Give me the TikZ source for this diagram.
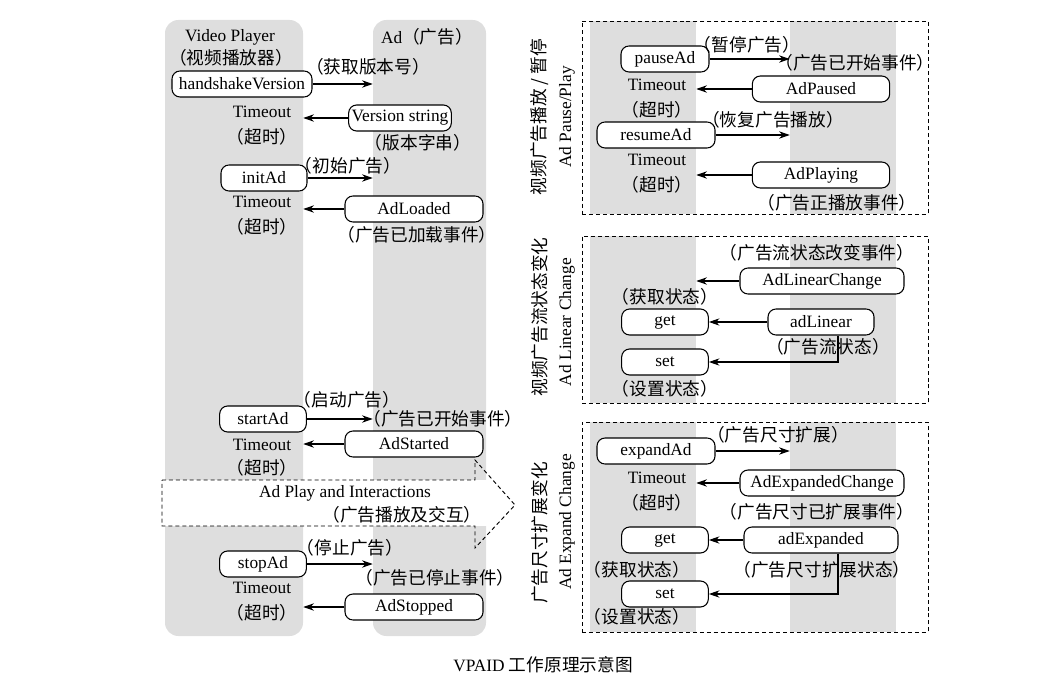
\documentclass[tikz,border=0pt]{standalone}
\usepackage{fontspec}
\setmainfont{Liberation Serif}
\newfontfamily\cjk{Noto Sans CJK SC}[Scale=1.02]
\newcommand{\zh}[1]{{\cjk #1}}
\usetikzlibrary{arrows.meta,calc}
\tikzset{
  lane/.style={fill=black!13, draw=none, rounded corners=10pt, inner sep=0pt},
  stripe/.style={fill=black!13, draw=none, inner sep=0pt},
  bx/.style={draw, fill=white, rounded corners=6pt, line width=0.8pt,
             minimum height=19.5pt, minimum width=#1, inner sep=1pt},
  lbl/.style={inner sep=1pt},
  sig/.style={-{Stealth[length=8pt,width=5.5pt]}, line width=0.8pt},
  grp/.style={draw, dash pattern=on 3pt off 2.2pt, line width=0.7pt, inner sep=0pt},
}

\begin{document}
\begin{tikzpicture}[x=0.75pt, y=-0.75pt, font=\fontsize{13}{15}\selectfont]
  \useasboundingbox (0,0) rectangle (1062,691);

  % lanes of the main sequence
  \node[lane, minimum width=103.5pt, minimum height=462pt] (vp) at (234,328) {};
  \node[lane, minimum width=84.75pt, minimum height=462pt] (ad) at (429.5,328) {};
  \node[lbl] (vpt) at (230,37) {Video Player};
  \node[lbl] (vpz) at (231,58) {\zh{（视频播放器）}};
  \node[lbl] (adt) at (427,37) {Ad\zh{（广告）}};

  % handshake
  \node[bx=105pt] (hv) at (242,84) {handshakeVersion};
  \draw[sig] (hv) -- (hv -| ad.west);
  \node[lbl] (hvz) at (368,67) {\zh{（获取版本号）}};
  \node[lbl] (to1) at (262,112) {Timeout};
  \node[lbl] (to1z) at (262,137) {\zh{（超时）}};
  \node[bx=77pt] (vs) at (400,118) {Version string};
  \draw[sig] (vs) -- (vs -| vp.east);
  \node[lbl] (vsz) at (418,143) {\zh{（版本字串）}};

  % init
  \node[bx=64.5pt] (ia) at (264,178) {initAd};
  \draw[sig] (ia) -- (ia -| ad.west);
  \node[lbl] (iaz) at (348,166) {\zh{（初始广告）}};
  \node[lbl] (to2) at (262,202) {Timeout};
  \node[lbl] (to2z) at (262,227) {\zh{（超时）}};
  \node[bx=103.5pt] (ald) at (414,209) {AdLoaded};
  \draw[sig] (ald) -- (ald -| vp.east);
  \node[lbl] (aldz) at (417,235) {\zh{（广告已加载事件）}};

  % start
  \node[lbl] (saz) at (347,400) {\zh{（启动广告）}};
  \node[bx=65pt] (sa) at (263,419) {startAd};
  \draw[sig] (sa) -- (sa -| ad.west);
  \node[lbl] (sae) at (443,419) {\zh{（广告已开始事件）}};
  \node[lbl] (to3) at (262,445) {Timeout};
  \node[lbl] (to3z) at (262,468) {\zh{（超时）}};
  \node[bx=103.5pt] (ast) at (414,444) {AdStarted};
  \draw[sig] (ast) -- (ast -| vp.east);

  % play and interactions
  \fill[white] (162,480) rectangle (488,526);
  \draw[grp] (162,480) -- (475,480) -- (475,460) -- (515,505) -- (475,548)
    -- (475,526) -- (162,526) -- cycle;
  \node[lbl] (pit) at (345,493) {Ad Play and Interactions};
  \node[lbl] (piz) at (402,515) {\zh{（广告播放及交互）}};

  % stop
  \node[lbl] (soz) at (350,548) {\zh{（停止广告）}};
  \node[bx=65pt] (so) at (263,564) {stopAd};
  \draw[sig] (so) -- (so -| ad.west);
  \node[lbl] (soe) at (435,578) {\zh{（广告已停止事件）}};
  \node[lbl] (to4) at (262,588) {Timeout};
  \node[lbl] (to4z) at (262,613) {\zh{（超时）}};
  \node[bx=103.5pt] (aso) at (414,607) {AdStopped};
  \draw[sig] (aso) -- (aso -| vp.east);

  % pause / play panel
  \node[stripe, minimum width=79.5pt, minimum height=144.75pt] (s1l) at (643,117.5) {};
  \node[stripe, minimum width=79.5pt, minimum height=144.75pt] (s1r) at (843,117.5) {};
  \node[grp, minimum width=259.5pt, minimum height=144.75pt] (p1) at (755,117.5) {};
  \node[lbl, rotate=90] (p1z) at (540,117) {\zh{视频广告播放 / 暂停}};
  \node[lbl, rotate=90] (p1e) at (567,117) {Ad Pause/Play};
  \node[bx=66pt] (pa) at (665,59) {pauseAd};
  \draw[sig] (pa) -- (pa -| s1r.west);
  \node[lbl] (paz) at (747,45) {\zh{（暂停广告）}};
  \node[lbl] (pae) at (855,63) {\zh{（广告已开始事件）}};
  \node[lbl] (to5) at (657,85) {Timeout};
  \node[lbl] (to5z) at (657,110) {\zh{（超时）}};
  \node[bx=103pt] (apd) at (821,89) {AdPaused};
  \draw[sig] (apd) -- (apd -| s1l.east);
  \node[lbl] (raz) at (773,120) {\zh{（恢复广告播放）}};
  \node[bx=88.5pt] (ra) at (656,135) {resumeAd};
  \draw[sig] (ra) -- (ra -| s1r.west);
  \node[lbl] (to6) at (657,160) {Timeout};
  \node[lbl] (to6z) at (657,185) {\zh{（超时）}};
  \node[bx=103pt] (apl) at (821,175) {AdPlaying};
  \draw[sig] (apl) -- (apl -| s1l.east);
  \node[lbl] (aplz) at (837,203) {\zh{（广告正播放事件）}};

  % linear change panel
  \node[stripe, minimum width=79.5pt, minimum height=125.25pt] (s2l) at (643,319.5) {};
  \node[stripe, minimum width=79.5pt, minimum height=125.25pt] (s2r) at (843,319.5) {};
  \node[grp, minimum width=259.5pt, minimum height=125.25pt] (p2) at (755,319.5) {};
  \node[lbl, rotate=90] (p2z) at (540,317) {\zh{视频广告流状态变化}};
  \node[lbl, rotate=90] (p2e) at (567,322) {Ad Linear Change};
  \node[lbl] (alcz) at (817,253) {\zh{（广告流状态改变事件）}};
  \node[bx=123pt] (alc) at (822,281) {AdLinearChange};
  \draw[sig] (alc) -- (alc -| s2l.east);
  \node[lbl] (g1z) at (665,297) {\zh{（获取状态）}};
  \node[bx=65pt] (g1) at (665,322) {get};
  \node[bx=79.5pt] (al) at (821,322) {adLinear};
  \draw[sig] (al) -- (g1);
  \node[lbl] (alz) at (828,347) {\zh{（广告流状态）}};
  \node[bx=65pt] (st1) at (665,362) {set};
  \draw[sig] ($(al.south)+(17,0)$) |- (st1);
  \node[lbl] (st1z) at (665,389) {\zh{（设置状态）}};

  % expand change panel
  \node[stripe, minimum width=79.5pt, minimum height=157.5pt] (s3l) at (643,527) {};
  \node[stripe, minimum width=79.5pt, minimum height=157.5pt] (s3r) at (843,527) {};
  \node[grp, minimum width=259.5pt, minimum height=157.5pt] (p3) at (755,527) {};
  \node[lbl, rotate=90] (p3z) at (540,533) {\zh{广告尺寸扩展变化}};
  \node[lbl, rotate=90] (p3e) at (567,522) {Ad Expand Change};
  \node[lbl] (eaz) at (778,435) {\zh{（广告尺寸扩展）}};
  \node[bx=88.5pt] (ea) at (656,451) {expandAd};
  \draw[sig] (ea) -- (ea -| s3r.west);
  \node[lbl] (to7) at (657,478) {Timeout};
  \node[lbl] (to7z) at (657,503) {\zh{（超时）}};
  \node[bx=123pt] (aec) at (822,483) {AdExpandedChange};
  \draw[sig] (aec) -- (aec -| s3l.east);
  \node[lbl] (aecz) at (817,512) {\zh{（广告尺寸已扩展事件）}};
  \node[bx=65pt] (g2) at (665,540) {get};
  \node[bx=115.5pt] (ae) at (821,540) {adExpanded};
  \draw[sig] (ae) -- (g2);
  \node[lbl] (g2z) at (637,570) {\zh{（获取状态）}};
  \node[lbl] (aez) at (822,570) {\zh{（广告尺寸扩展状态）}};
  \node[bx=65pt] (st2) at (665,594) {set};
  \draw[sig] ($(ae.south)+(17,0)$) |- (st2);
  \node[lbl] (st2z) at (637,617) {\zh{（设置状态）}};

  \node[lbl] (cap) at (543,665) {VPAID \zh{工作原理示意图}};
\end{tikzpicture}
\end{document}
